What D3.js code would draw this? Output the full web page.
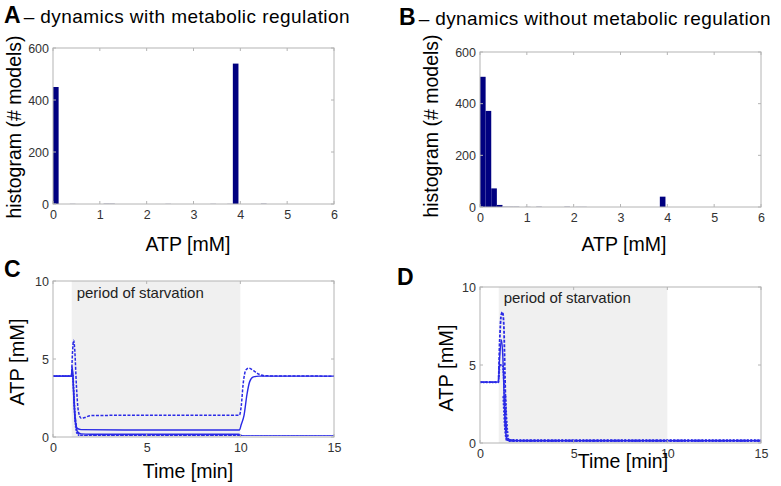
<!DOCTYPE html>
<html><head><meta charset="utf-8">
<script src="https://cdn.jsdelivr.net/npm/d3@7"></script>
<style>body{margin:0;background:#fff;} svg{display:block;font-family:"Liberation Sans",Arial,sans-serif;}</style>
</head><body>
<svg id="c" width="781" height="486"></svg>
<script>
// ---------- data ----------
const histXTicks = [0, 1, 2, 3, 4, 5, 6];
const histYTicks = [0, 200, 400, 600];
const aBins   = [0.06, 0.42, 1.14, 1.26, 2.46, 3.42, 3.78, 3.90, 4.50];
const aCounts = [450, 1, 2, 2, 1, 1, 1, 540, 2];
const bBins   = [0.06, 0.18, 0.30, 0.42, 0.54, 0.66, 0.78, 1.02, 1.26, 1.86, 2.10, 2.22, 3.90];
const bCounts = [504, 372, 72, 8, 2, 2, 2, 1, 2, 2, 1, 1, 40];
const binWidth = 0.12;

const timeTicks = [0, 5, 10, 15];
const atpTicks = [0, 5, 10];
const starvation = [1, 10];

// Panel C series: [time, ATP]
const cSolid1 = [[0,3.9],[0.98,3.9],[1.02,4.5],[1.06,4.0],[1.12,2.2],[1.2,0.9],[1.3,0.55],[1.5,0.47],[5,0.45],[9.95,0.45],[10.05,0.8],[10.2,1.4],[10.35,2.7],[10.5,3.55],[10.7,3.85],[11,3.9],[15,3.9]];
const cDash1  = [[0,3.9],[0.98,3.9],[1.04,5.4],[1.1,6.2],[1.16,5.6],[1.25,3.3],[1.35,1.7],[1.5,1.2],[1.7,1.25],[2,1.37],[5,1.4],[9.95,1.4],[10.05,2.0],[10.15,3.4],[10.3,4.3],[10.45,4.42],[10.7,4.25],[11,4.02],[11.4,3.92],[15,3.9]];
const cSolid2 = [[0,3.9],[0.98,3.9],[1.04,4.3],[1.1,3.0],[1.2,1.0],[1.3,0.35],[1.5,0.2],[2,0.18],[9.9,0.18],[10.15,0.06],[15,0.06]];
const cDot1   = [[0,3.9],[0.98,3.9],[1.05,4.0],[1.12,2.5],[1.2,0.8],[1.3,0.2],[1.5,0.06],[9.9,0.06],[10.1,0.03],[15,0.03]];
const cDash2  = [[1.2,1.2],[1.3,0.3],[1.45,0.12],[2,0.1],[9.9,0.1],[10.1,0.04],[15,0.04]];

// Panel D series
const dSolid1 = [[0,3.9],[0.98,3.9],[1.05,5.5],[1.15,6.6],[1.22,5.5],[1.3,2.5],[1.38,0.6],[1.45,0.18],[2,0.15],[15,0.15]];
const dDash1  = [[0,3.9],[0.98,3.9],[1.05,6.5],[1.13,8.2],[1.2,8.4],[1.27,7.6],[1.33,4.5],[1.4,1.0],[1.48,0.2],[2,0.15],[15,0.15]];
const dDot1   = [[0,3.9],[0.98,3.9],[1.05,5.0],[1.2,5.0],[1.28,4.0],[1.35,1.5],[1.45,0.2],[2,0.14],[15,0.14]];
const dDot2   = [[1.3,3.0],[1.4,0.8],[1.5,0.15],[2,0.12],[15,0.12]];

// ---------- drawing ----------
const svg = d3.select("#c");
const blue = "#2a2ae6";
const frame = "#b4b4b4";

function panelAxes(g, x, y, xt, yt) {
  const [x0, x1] = x.range(), [y0, y1] = y.range();
  const tl = 3;
  xt.forEach(t => {
    g.append("line").attr("x1", x(t)).attr("x2", x(t)).attr("y1", y0).attr("y2", y0 - tl).attr("stroke", frame);
    g.append("line").attr("x1", x(t)).attr("x2", x(t)).attr("y1", y1).attr("y2", y1 + tl).attr("stroke", frame);
  });
  yt.forEach(t => {
    g.append("line").attr("x1", x0).attr("x2", x0 + tl).attr("y1", y(t)).attr("y2", y(t)).attr("stroke", frame);
    g.append("line").attr("x1", x1).attr("x2", x1 - tl).attr("y1", y(t)).attr("y2", y(t)).attr("stroke", frame);
  });
  g.append("rect").attr("x", x0).attr("y", y1).attr("width", x1 - x0).attr("height", y0 - y1)
    .attr("fill", "none").attr("stroke", frame).attr("stroke-width", 1);
  const xa = d3.axisBottom(x).tickValues(xt).tickFormat(d3.format("d")).tickSize(0).tickPadding(6);
  const ya = d3.axisLeft(y).tickValues(yt).tickFormat(d3.format("d")).tickSize(0).tickPadding(4);
  const gx = g.append("g").attr("transform", `translate(0,${y0})`).call(xa);
  const gy = g.append("g").attr("transform", `translate(${x0},0)`).call(ya);
  [gx, gy].forEach(a => {
    a.select(".domain").remove();
    a.selectAll("text").attr("font-size", 12.5).attr("fill", "#333").attr("font-family", "Liberation Sans, Arial, sans-serif");
  });
}

function title(letter, rest, x, yb, len) {
  const t = svg.append("text").attr("x", x).attr("y", yb).attr("fill", "#000");
  t.append("tspan").text(letter).attr("font-weight", "bold").attr("font-size", 23);
  t.append("tspan").text(rest).attr("font-size", 19).attr("dx", 3)
    .attr("textLength", len).attr("lengthAdjust", "spacing");
}

function ylabel(txt, cx, cy, fs) {
  svg.append("text").attr("transform", `translate(${cx},${cy}) rotate(-90)`)
    .attr("text-anchor", "middle").attr("font-size", fs).attr("fill", "#000").text(txt);
}
function xlabel(txt, cx, yb) {
  svg.append("text").attr("x", cx).attr("y", yb).attr("text-anchor", "middle")
    .attr("font-size", 19.5).attr("fill", "#000").text(txt);
}

function histPanel(box, bins, counts) {
  const x = d3.scaleLinear().domain([0, 6]).range([box.l, box.r]);
  const y = d3.scaleLinear().domain([0, 600]).range([box.b, box.t]);
  const g = svg.append("g");
  g.selectAll("rect.bar").data(bins.map((b, i) => ({b, c: counts[i]}))).join("rect")
    .attr("class", "bar")
    .attr("x", d => x(d.b - binWidth / 2)).attr("width", d => x(d.b + binWidth / 2) - x(d.b - binWidth / 2))
    .attr("y", d => y(d.c)).attr("height", d => y(0) - y(d.c))
    .attr("fill", d => d.c > 5 ? "#000080" : "#9a9ab8");
  panelAxes(g, x, y, histXTicks, histYTicks);
}

function timePanel(box, series, labelY) {
  const x = d3.scaleLinear().domain([0, 15]).range([box.l, box.r]);
  const y = d3.scaleLinear().domain([0, 10]).range([box.b, box.t]);
  const g = svg.append("g");
  g.append("rect").attr("x", x(starvation[0])).attr("y", y(10))
    .attr("width", x(starvation[1]) - x(starvation[0])).attr("height", y(0) - y(10)).attr("fill", "#f0f0f0");
  g.append("text").attr("x", x(starvation[0]) + 5).attr("y", y(10) + labelY)
    .attr("font-size", 15).attr("fill", "#222").attr("textLength", 127).attr("lengthAdjust", "spacing")
    .text("period of starvation");
  const line = d3.line().x(d => x(d[0])).y(d => y(d[1])).curve(d3.curveMonotoneX);
  const clip = "clip" + Math.round(box.l);
  g.append("clipPath").attr("id", clip).append("rect")
    .attr("x", box.l).attr("y", box.t - 1).attr("width", box.r - box.l).attr("height", box.b - box.t);
  series.forEach(s => {
    g.append("path").attr("d", line(s.data)).attr("fill", "none").attr("stroke", blue)
      .attr("stroke-width", s.w || 1.4).attr("stroke-dasharray", s.dash || null)
      .attr("clip-path", `url(#${clip})`);
  });
  panelAxes(g, x, y, timeTicks, atpTicks);
}

// Panel A
title("A", "– dynamics with metabolic regulation", 4, 23, 326);
histPanel({l: 53, r: 334, t: 48, b: 204}, aBins, aCounts);
ylabel("histogram (# models)", 21, 127, 19.5);
xlabel("ATP [mM]", 188, 251);

// Panel B
title("B", "– dynamics without metabolic regulation", 399, 25, 352);
histPanel({l: 480, r: 761, t: 52, b: 207}, bBins, bCounts);
ylabel("histogram (# models)", 438, 126, 19.5);
xlabel("ATP [mM]", 624, 251);

// Panel C
svg.append("text").attr("x", 4).attr("y", 277).attr("font-weight", "bold").attr("font-size", 23).text("C");
timePanel({l: 53, r: 334, t: 281, b: 437}, [
  {data: cSolid1}, {data: cDash1, dash: "3,1.5", w: 1.5}, {data: cSolid2},
  {data: cDot1, dash: "1.5,1.5", w: 1.8}, {data: cDash2, dash: "3,1.5"}
], 17);
ylabel("ATP [mM]", 24, 362, 20);
xlabel("Time [min]", 188, 478);

// Panel D
svg.append("text").attr("x", 397).attr("y", 285).attr("font-weight", "bold").attr("font-size", 23).text("D");
timePanel({l: 480, r: 761, t: 287, b: 443}, [
  {data: dSolid1}, {data: dDash1, dash: "3,1.5", w: 1.8}, {data: dDot1, dash: "1.5,1.5", w: 2},
  {data: dDot2, dash: "2,1.5", w: 4}
], 16);
ylabel("ATP [mM]", 453, 368, 20);
xlabel("Time [min]", 623, 468);
</script>
</body></html>
